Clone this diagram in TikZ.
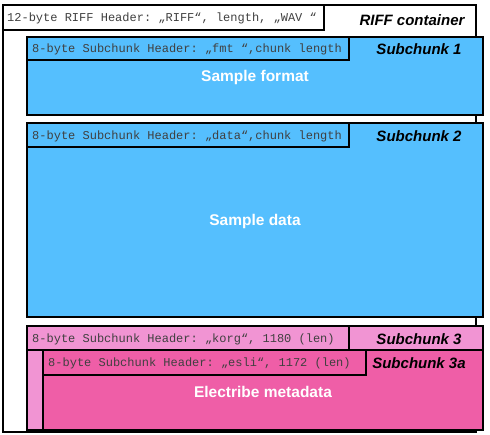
\documentclass[tikz,border=0pt]{standalone}
\usepackage{fontspec}
\setmainfont{Liberation Sans}
\setmonofont{Liberation Mono}
\begin{document}
\begin{tikzpicture}[x=1pt,y=-1pt,
  box/.style={draw=black,line width=2.9pt},
  hdr/.style={font=\ttfamily\fontsize{12}{14}\selectfont,anchor=west,inner sep=0pt,text=black!75},
  lbl/.style={font=\bfseries\itshape\fontsize{15}{17}\selectfont,inner sep=0pt},
  body/.style={font=\bfseries\fontsize{15.5}{18}\selectfont,text=white,inner sep=0pt}]
\definecolor{cblue}{HTML}{55BFFE}
\definecolor{lpink}{HTML}{F194D3}
\definecolor{dpink}{HTML}{EF5EA7}
\useasboundingbox (0,0) rectangle (490,435);
% RIFF container
\draw[draw=black,line width=2.2pt,fill=white] (3,5) rectangle (476,432);
\draw[box,fill=white] (3,5) rectangle (324,30);
\node[hdr] (riffh) at (7,18) {12-byte RIFF Header: „RIFF“, length, „WAV “};
\node[lbl] (riffl) at (412,20) {RIFF container};
% Subchunk 1
\draw[box,fill=cblue] (27,37) rectangle (483,115);
\draw[box] (27,37) rectangle (349,60);
\node[hdr] (h1) at (32,49) {8-byte Subchunk Header: „fmt “,chunk length};
\node[lbl] (l1) at (419,49) {Subchunk 1};
\node[body] (b1) at (255,77) {Sample format};
% Subchunk 2
\draw[box,fill=cblue] (27,123) rectangle (483,317);
\draw[box] (27,123) rectangle (349,147);
\node[hdr] (h2) at (32,136) {8-byte Subchunk Header: „data“,chunk length};
\node[lbl] (l2) at (419,136) {Subchunk 2};
\node[body] (b2) at (255,221) {Sample data};
% Subchunk 3
\draw[box,fill=lpink] (27,326) rectangle (483,430);
\draw[box] (27,326) rectangle (349,350);
\draw[box] (349,326) rectangle (483,350);
\node[hdr] (h3) at (32,339) {8-byte Subchunk Header: „korg“, 1180 (len)};
\node[lbl] (l3) at (419,339) {Subchunk 3};
% Subchunk 3a
\draw[box,fill=dpink] (43,350) rectangle (483,430);
\draw[box] (43,350) rectangle (366,375);
\node[hdr] (h3a) at (48,363) {8-byte Subchunk Header: „esli“, 1172 (len)};
\node[lbl] (l3a) at (419,363) {Subchunk 3a};
\node[body] (b3) at (263,392) {Electribe metadata};
\end{tikzpicture}
\end{document}
